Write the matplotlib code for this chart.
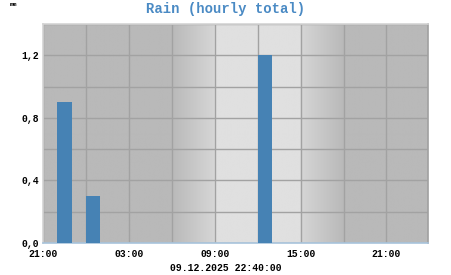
import numpy as np
import matplotlib.pyplot as plt
from matplotlib.colors import to_rgb

# hours counted from 21:00 (day before)
bar_start = [1, 3, 15]          # 22:00, 00:00, 12:00
rain_mm = [0.9, 0.3, 1.2]
x_end = 26.9
tick_pos = [0, 6, 12, 18, 24]
tick_lab = ["21:00", "03:00", "09:00", "15:00", "21:00"]
y_ticks = [0.0, 0.4, 0.8, 1.2]
y_lab = ["0,0", "0,4", "0,8", "1,2"]
# dawn / dusk ramps (hours from start)
dawn = (9, 12)
dusk = (18, 21)

mono = "Liberation Mono"
night = np.array(to_rgb("#b9b9b9"))
day = np.array(to_rgb("#e0e0e0"))
edge = np.array(to_rgb("#d6d6d6"))

fig = plt.figure(figsize=(4.51, 2.75), dpi=100)
ax = fig.add_axes([43/451, 32/275, 385/451, 219/275])

# background shading for night / day
xs = np.linspace(0, x_end, 1200)
cols = np.tile(night, (len(xs), 1))
m = (xs >= dawn[0]) & (xs < dawn[1])
f = (xs[m] - dawn[0]) / (dawn[1] - dawn[0])
cols[m] = night + (edge - night) * f[:, None]
cols[(xs >= dawn[1]) & (xs < dusk[0])] = day
m = (xs >= dusk[0]) & (xs < dusk[1])
f = (xs[m] - dusk[0]) / (dusk[1] - dusk[0])
cols[m] = edge + (night - edge) * f[:, None]
ax.imshow(cols[None, :, :], extent=[0, x_end, 0, 1.4], aspect="auto", zorder=0)

ax.bar(bar_start, rain_mm, width=1, align="edge", color="#4682b4", zorder=3)

ax.set_xlim(0, x_end)
ax.set_ylim(0, 1.4)
ax.set_xticks(tick_pos)
ax.set_xticklabels(tick_lab, fontfamily=mono, fontsize=7, fontweight="bold")
ax.set_xticks(np.arange(0, x_end, 3), minor=True)
ax.set_yticks(y_ticks)
ax.set_yticklabels(y_lab, fontfamily=mono, fontsize=7, fontweight="bold",
                   va="center_baseline")
ax.set_yticks(np.arange(0, 1.41, 0.2), minor=True)
ax.tick_params(which="both", length=0)
ax.tick_params(axis="x", pad=4)
ax.tick_params(axis="y", pad=3)
ax.grid(which="both", color="#a2a2a2", linewidth=1, zorder=1)
for l in ax.get_xgridlines() + ax.get_ygridlines():
    l.set_zorder(1)

ax.spines["top"].set_color("#d4d4d4")
ax.spines["left"].set_color("#d4d4d4")
ax.spines["right"].set_color("#a0a0a0")
ax.spines["bottom"].set_color("#a8c4dc")
for s in ax.spines.values():
    s.set_linewidth(1.2)

fig.text(0.5, 1 - 9/275, "Rain (hourly total)", ha="center", va="center",
         fontfamily=mono, fontsize=10, fontweight="bold", color="#4a8ac4")
fig.text(10/451, 1 - 5/275, "mm", ha="left", va="center",
         fontfamily=mono, fontsize=4.5, fontweight="bold")
fig.text(0.5, 1 - 268/275, "09.12.2025 22:40:00", ha="center", va="center",
         fontfamily=mono, fontsize=7, fontweight="bold")

fig.savefig("out.png", dpi=100)
